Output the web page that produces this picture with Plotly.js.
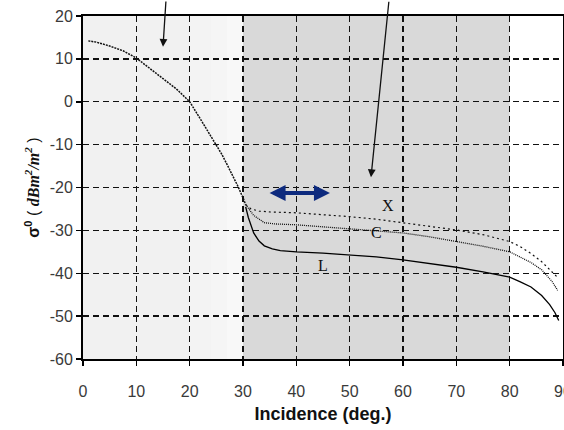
<!DOCTYPE html>
<html>
<head>
<meta charset="utf-8">
<script src="https://cdn.plot.ly/plotly-3.0.1.min.js"></script>
<style>html,body{margin:0;padding:0;background:#fff;}#chart{width:564px;height:430px;}</style>
</head>
<body>
<div id="chart"></div>
<script>
// Shared part of the curves (all three bands coincide below ~30 deg)
const commonX = [1, 2.5, 5, 7.5, 10, 12.5, 15, 17.5, 20, 22, 24, 25, 26, 27, 28, 29, 30, 30.5];
const commonY = [14.2, 13.9, 13.0, 11.9, 10.2, 7.9, 5.4, 3.0, 0.0, -4.0, -8.0, -10.0, -12.2, -14.6, -17.0, -19.6, -22.4, -24.0];

// X band
const xBandX = [30.5, 31.5, 33, 35, 40, 45, 50, 55, 60, 65, 70, 75, 80, 82, 84, 86, 88, 89];
const xBandY = [-24.0, -25.0, -25.5, -25.7, -25.9, -26.3, -26.8, -27.4, -28.2, -29.0, -29.9, -31.0, -32.6, -33.8, -35.4, -37.3, -39.7, -41.0];

// C band
const cBandX = [30.5, 32, 34, 36, 40, 45, 50, 55, 60, 65, 70, 75, 80, 82, 84, 86, 88, 89];
const cBandY = [-24.0, -26.5, -28.2, -28.5, -28.7, -29.2, -29.7, -30.1, -30.6, -31.5, -32.6, -33.7, -35.0, -36.2, -37.5, -39.2, -42.0, -44.0];

// L band
const lBandX = [30.5, 31, 32, 33, 34, 35.5, 37, 40, 45, 50, 55, 60, 65, 70, 75, 80, 82, 84, 86, 87.5, 88.5, 89.2];
const lBandY = [-24.5, -27.0, -30.6, -32.5, -33.6, -34.3, -34.7, -35.0, -35.3, -35.7, -36.2, -36.9, -37.7, -38.6, -39.7, -40.9, -42.0, -43.2, -45.2, -47.3, -49.2, -51.0];

const bandLabels = ["X", "C", "L"];
const bandLabelX = [57.2, 55.1, 45.0];
const bandLabelY = [-24.1, -30.6, -38.1];

const xTicks = [0, 10, 20, 30, 40, 50, 60, 70, 80, 90];
const yTicks = [-60, -50, -40, -30, -20, -10, 0, 10, 20];

const traces = [
  {x: commonX, y: commonY, mode: 'lines', line: {color: '#111', width: 1.5, dash: '2px,1px'}, hoverinfo: 'skip'},
  {x: xBandX, y: xBandY, mode: 'lines', line: {color: '#111', width: 1.2, dash: '2px,3px'}, hoverinfo: 'skip'},
  {x: cBandX, y: cBandY, mode: 'lines', line: {color: '#111', width: 1.3, dash: '1px,1px'}, hoverinfo: 'skip'},
  {x: lBandX, y: lBandY, mode: 'lines', line: {color: '#000', width: 1.3}, hoverinfo: 'skip'}
];

const annotations = bandLabels.map((t, i) => ({
  x: bandLabelX[i], y: bandLabelY[i], xref: 'x', yref: 'y', text: t, showarrow: false,
  font: {family: 'Liberation Serif, DejaVu Serif, serif', size: 16, color: '#111'}
}));

annotations.push(
  {x: 15.0, y: 12.8, xref: 'x', yref: 'y', ax: 3, ay: -47, text: '', showarrow: true,
   arrowhead: 2, arrowsize: 1.2, arrowwidth: 1.3, arrowcolor: '#111'},
  {x: 54.0, y: -17.6, xref: 'x', yref: 'y', ax: 18, ay: -177, text: '', showarrow: true,
   arrowhead: 2, arrowsize: 1.2, arrowwidth: 1.3, arrowcolor: '#111'},
  {x: 46.3, y: -21.3, xref: 'x', yref: 'y', ax: 34.7, ay: -21.3, axref: 'x', ayref: 'y', text: '', showarrow: true,
   arrowhead: 2, arrowside: 'end+start', arrowsize: 0.8, arrowwidth: 4, arrowcolor: '#0d2a7e'}
);

const shapes = [
  {type: 'rect', xref: 'x', yref: 'y', x0: 0, x1: 20, y0: -60, y1: 20, fillcolor: '#f1f1f1', line: {width: 0}, layer: 'below'},
  {type: 'rect', xref: 'x', yref: 'y', x0: 20, x1: 24, y0: -60, y1: 20, fillcolor: '#f3f3f3', line: {width: 0}, layer: 'below'},
  {type: 'rect', xref: 'x', yref: 'y', x0: 24, x1: 27, y0: -60, y1: 20, fillcolor: '#f5f5f5', line: {width: 0}, layer: 'below'},
  {type: 'rect', xref: 'x', yref: 'y', x0: 27, x1: 30, y0: -60, y1: 20, fillcolor: '#f8f8f8', line: {width: 0}, layer: 'below'},
  {type: 'rect', xref: 'x', yref: 'y', x0: 30, x1: 80, y0: -60, y1: 20, fillcolor: '#d9d9d9', line: {width: 0}, layer: 'below'}
];

const axisCommon = {
  showline: true, mirror: true, linecolor: '#000', linewidth: 2,
  showgrid: true, gridcolor: '#111', gridwidth: 1.4, griddash: '6px,4px',
  zeroline: false, ticks: 'outside', ticklen: 5, tickwidth: 1.5, tickcolor: '#000',
  tickfont: {family: 'Liberation Sans, Arial, sans-serif', size: 16, color: '#3a3a3a'},
  tickmode: 'array', ticklabeloverflow: 'allow'
};

const layout = {
  width: 564, height: 430,
  margin: {l: 83, r: 1, t: 16, b: 71},
  paper_bgcolor: '#fff', plot_bgcolor: '#fff',
  showlegend: false,
  xaxis: Object.assign({}, axisCommon, {
    range: [0, 90], tickvals: xTicks, ticktext: xTicks.map(String), ticklabelstandoff: 12,
    title: {text: '<b>Incidence (deg.)</b>', font: {family: 'Liberation Sans, Arial, sans-serif', size: 18, color: '#111'}, standoff: 8}
  }),
  yaxis: Object.assign({}, axisCommon, {
    range: [-60, 20], tickvals: yTicks, ticktext: yTicks.map(String),
    title: {text: '<b>σ<sup>0</sup></b> ( <span style="font-family:Liberation Serif"><b><i>dBm<sup>2</sup>/m<sup>2</sup></i></b></span> )',
            font: {family: 'Liberation Sans, Arial, sans-serif', size: 16, color: '#111'}, standoff: 6}
  }),
  shapes: shapes,
  annotations: annotations
};

Plotly.newPlot('chart', traces, layout, {staticPlot: true, displayModeBar: false});
</script>
</body>
</html>
